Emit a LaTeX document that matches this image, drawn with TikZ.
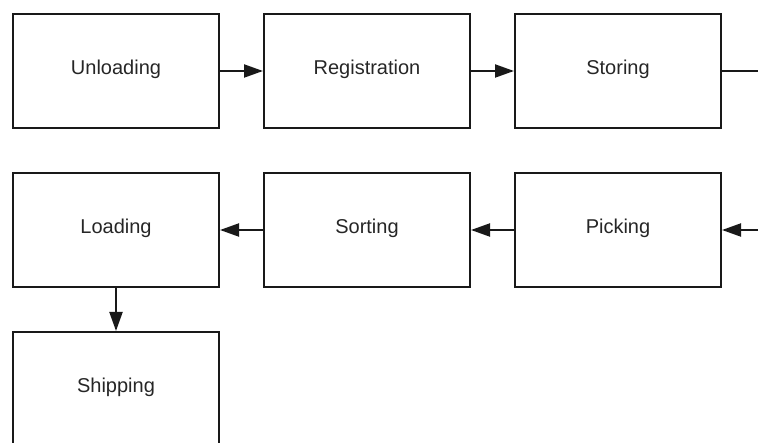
\documentclass[tikz,border=0pt]{standalone}
\usepackage{fontspec}
\setmainfont{Liberation Sans}
\usetikzlibrary{arrows.meta}
\begin{document}
\begin{tikzpicture}[x=1pt,y=-1pt,
  stepbox/.style={draw=black!90, line width=2pt, minimum width=206pt, minimum height=114pt,
    inner sep=0pt, font=\fontsize{20}{24}\selectfont, text=black!85,
    text height=13pt, text depth=5pt},
  flow/.style={draw=black!90, line width=2pt, -{Triangle[length=19pt,width=13pt]}},
  plain/.style={draw=black!90, line width=2pt}]
\useasboundingbox (0,0) rectangle (758,443);
\clip (0,0) rectangle (758,443);
% first row, left to right
\node[stepbox] (unl) at (116,71) {Unloading};
\node[stepbox] (reg) at (367,71) {Registration};
\node[stepbox] (sto) at (618,71) {Storing};
% second row, right to left
\node[stepbox] (lod) at (116,230) {Loading};
\node[stepbox] (srt) at (367,230) {Sorting};
\node[stepbox] (pck) at (618,230) {Picking};
% third row
\node[stepbox] (shp) at (116,389) {Shipping};
% continuation past the right edge
\coordinate (outA) at (780,71);
\coordinate (outB) at (780,230);
\draw[flow] (unl) -- (reg);
\draw[flow] (reg) -- (sto);
\draw[plain] (sto) -- (outA);
\draw[flow] (outB) -- (pck);
\draw[flow] (pck) -- (srt);
\draw[flow] (srt) -- (lod);
\draw[flow] (lod) -- (shp);
\end{tikzpicture}
\end{document}
